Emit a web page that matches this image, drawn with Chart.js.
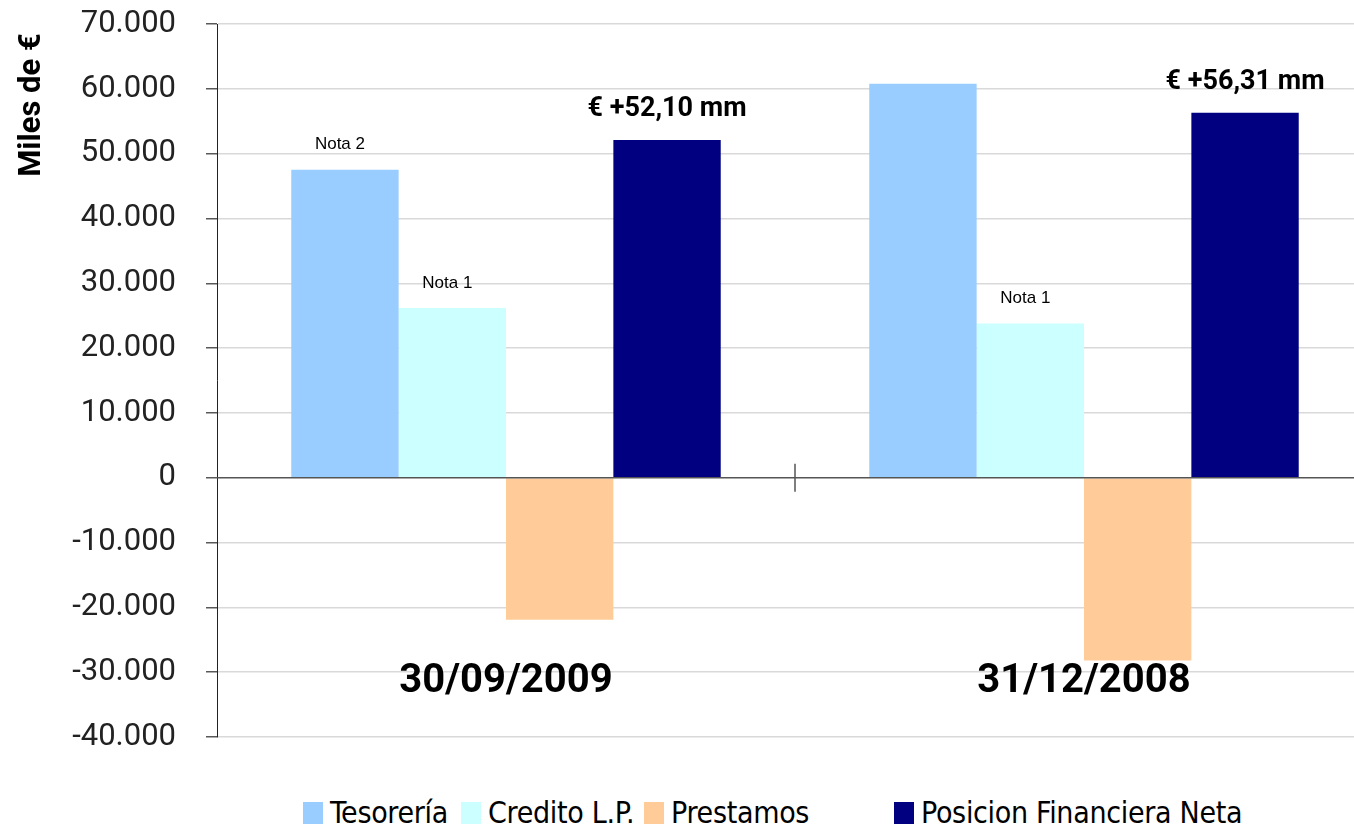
<!DOCTYPE html>
<html lang="es">
<head>
<meta charset="utf-8">
<title>Posición financiera neta</title>
<script src="https://cdn.jsdelivr.net/npm/chart.js@4.4.1/dist/chart.umd.min.js"></script>
<style>
    html, body { margin: 0; padding: 0; background: #fff; overflow: hidden; }
    #wrap { position: relative; width: 1354px; height: 828px; overflow: hidden; }
    #chart { position: absolute; left: 0; top: 0; }
    #legend {
        position: absolute; left: 303px; top: 797px;
        font-family: "DejaVu Sans Condensed", "Liberation Sans Narrow", sans-serif;
        font-size: 30px; line-height: 32px; color: #000; letter-spacing: -0.3px;
    }
    .item { display: flex; align-items: center; position: absolute; top: 0; white-space: nowrap; }
    .box { width: 20px; height: 22px; margin-right: 7px; }
</style>
</head>
<body>
<div id="wrap">
    <canvas id="chart" width="1380" height="761"></canvas>
    <div id="legend"></div>
</div>
<script>
// --- Data ---
const categories = ['30/09/2009', '31/12/2008'];
const seriesNames = ['Tesorería', 'Credito L.P.', 'Prestamos', 'Posicion Financiera Neta'];
const tesoreria = [47500, 60800];
const creditoLP = [26200, 23800];
const prestamos = [-21900, -28200];
const posicionNeta = [52100, 56310];
const seriesColors = ['#99CCFF', '#CCFFFF', '#FFCC99', '#000080'];

const tesoreriaNotes = ['Nota 2', ''];
const creditoNotes = ['Nota 1', 'Nota 1'];
const posicionLabels = ['€ +52,10 mm', '€ +56,31 mm'];

const yMin = -40000, yMax = 70000, yStep = 10000;
const yTitle = 'Miles de €';

// 70000 -> "70.000"
const fmtMiles = v => (v < 0 ? '-' : '') + String(Math.abs(v)).replace(/\B(?=(\d{3})+(?!\d))/g, '.');

// --- Extra drawing: zero line, category tick, notes, category names, axis title ---
const decorations = {
    id: 'decorations',
    afterDatasetsDraw(chart) {
        const { ctx, chartArea, scales: { x, y } } = chart;
        const y0 = y.getPixelForValue(0);
        ctx.save();

        // zero line over the bars
        ctx.strokeStyle = '#555';
        ctx.lineWidth = 1.5;
        ctx.beginPath();
        ctx.moveTo(chartArea.left, y0);
        ctx.lineTo(chartArea.right, y0);
        ctx.stroke();

        // category separator tick
        const xm = (x.getPixelForValue(0) + x.getPixelForValue(1)) / 2;
        ctx.beginPath();
        ctx.moveTo(xm, y0 - 14);
        ctx.lineTo(xm, y0 + 14);
        ctx.stroke();

        // notes above bars
        ctx.fillStyle = '#000';
        ctx.textAlign = 'center';
        ctx.textBaseline = 'alphabetic';
        const drawNotes = (dsIndex, texts, font, gap, dx) => {
            ctx.font = font;
            chart.getDatasetMeta(dsIndex).data.forEach((bar, i) => {
                if (texts[i]) ctx.fillText(texts[i], bar.x + dx, bar.y - gap);
            });
        };
        drawNotes(0, tesoreriaNotes, '17px "Liberation Sans", Arial, sans-serif', 21, -5);
        drawNotes(1, creditoNotes, '17px "Liberation Sans", Arial, sans-serif', 20, -5);
        drawNotes(3, posicionLabels, 'bold 27px Roboto, sans-serif', 24, 0);

        // category names inside the plot
        ctx.font = 'bold 40px Roboto, sans-serif';
        categories.forEach((c, i) => {
            ctx.fillText(c, x.getPixelForValue(i), chartArea.bottom - 45);
        });

        // rotated axis title
        ctx.font = 'bold 31px Roboto, sans-serif';
        ctx.translate(32, 105);
        ctx.rotate(-Math.PI / 2);
        ctx.textBaseline = 'middle';
        ctx.fillText(yTitle, 0, 0);
        ctx.restore();
    }
};

const seriesData = [tesoreria, creditoLP, prestamos, posicionNeta];

new Chart(document.getElementById('chart'), {
    type: 'bar',
    data: {
        labels: categories,
        datasets: seriesNames.map((name, i) => ({
            label: name,
            data: seriesData[i],
            backgroundColor: seriesColors[i],
            borderWidth: 0,
            categoryPercentage: 0.743,
            barPercentage: 1.0
        }))
    },
    options: {
        responsive: false,
        animation: false,
        layout: { padding: { top: 0, right: 7, bottom: 0, left: 0 } },
        plugins: {
            legend: { display: false },
            tooltip: { enabled: false }
        },
        scales: {
            x: { display: false },
            y: {
                min: yMin,
                max: yMax,
                afterFit(scale) {
                    scale.width = 217;
                    scale.paddingTop = 24;
                    scale.paddingBottom = 24;
                },
                ticks: {
                    stepSize: yStep,
                    padding: 30,
                    color: '#222',
                    font: { family: 'Roboto, sans-serif', size: 31 },
                    callback: v => fmtMiles(v)
                },
                grid: {
                    color: ctx => (ctx.tick && ctx.tick.value === 0 ? 'rgba(0,0,0,0)' : '#d9d9d9'),
                    tickColor: '#595959',
                    tickLength: 11,
                    lineWidth: 1.5
                },
                border: { color: '#222', width: 1 }
            }
        }
    },
    plugins: [decorations]
});

// --- Legend (item left edges relative to first box) ---
const legendLefts = [0, 158, 341, 591];
const legendEl = document.getElementById('legend');
seriesNames.forEach((name, i) => {
    const item = document.createElement('div');
    item.className = 'item';
    item.style.left = legendLefts[i] + 'px';
    item.innerHTML = `<span class="box" style="background:${seriesColors[i]}"></span><span>${name}</span>`;
    legendEl.appendChild(item);
});
</script>
</body>
</html>
